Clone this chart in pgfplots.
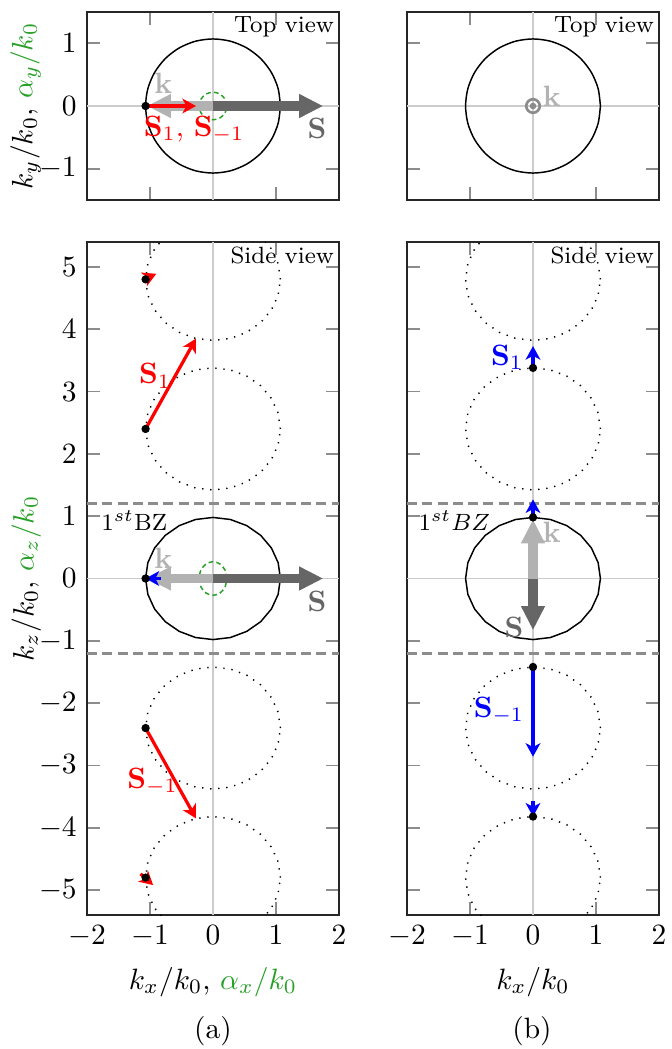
\documentclass[border=0pt]{standalone}
\usepackage{pgfplots}
\pgfplotsset{compat=1.18}
\usepackage{pgfplotstable}
\usetikzlibrary{arrows.meta}
\definecolor{mygreen}{RGB}{40,160,40}
\definecolor{kgray}{RGB}{178,178,178}
\definecolor{sgray}{RGB}{102,102,102}

\pgfplotstableread{
x y
1.070 0.000
1.034 0.254
0.927 0.490
0.757 0.693
0.535 0.849
0.277 0.947
0.000 0.980
-0.277 0.947
-0.535 0.849
-0.757 0.693
-0.927 0.490
-1.034 0.254
-1.070 0.000
-1.034 -0.254
-0.927 -0.490
-0.757 -0.693
-0.535 -0.849
-0.277 -0.947
0.000 -0.980
0.277 -0.947
0.535 -0.849
0.757 -0.693
0.927 -0.490
1.034 -0.254
1.070 0.000
}\sidecont

\pgfplotstableread{
x y
1.070 0.000
1.034 0.277
0.927 0.535
0.757 0.757
0.535 0.927
0.277 1.034
0.000 1.070
-0.277 1.034
-0.535 0.927
-0.757 0.757
-0.927 0.535
-1.034 0.277
-1.070 0.000
-1.034 -0.277
-0.927 -0.535
-0.757 -0.757
-0.535 -0.927
-0.277 -1.034
0.000 -1.070
0.277 -1.034
0.535 -0.927
0.757 -0.757
0.927 -0.535
1.034 -0.277
1.070 0.000
}\topcirc

\pgfplotstableread{
x y
0.220 0.000
0.191 0.110
0.110 0.191
0.000 0.220
-0.110 0.191
-0.191 0.110
-0.220 0.000
-0.191 -0.110
-0.110 -0.191
0.000 -0.220
0.110 -0.191
0.191 -0.110
0.220 0.000
}\greentop

\pgfplotstableread{
x y
0.220 0.000
0.191 0.135
0.110 0.234
0.000 0.270
-0.110 0.234
-0.191 0.135
-0.220 0.000
-0.191 -0.135
-0.110 -0.234
0.000 -0.270
0.110 -0.234
0.191 -0.135
0.220 0.000
}\greenside

\pgfplotsset{
  myax/.style={
    scale only axis, width=85.68pt,
    xmin=-2, xmax=2, xtick={-2,-1,0,1,2},
    axis line style={black!85, line width=0.6pt},
    major tick style={black!45, line width=0.6pt},
    major tick length=4.3pt,
    tick align=inside,
  },
  zeroline/.style={black!20, line width=0.6pt},
  bzline/.style={black!45, line width=0.85pt, dash pattern=on 3.4pt off 1.8pt},
  dotpat/.style={black, line width=0.5pt, dash pattern=on 0.45pt off 2.3pt},
  contour/.style={black, line width=0.5pt},
  greendash/.style={mygreen, line width=0.5pt, dash pattern=on 1.6pt off 1.1pt, smooth},
  karrow/.style={kgray, line width=3.2pt, -{Triangle[length=8.2pt,width=7.6pt]}},
  sarrow/.style={sgray, line width=3.2pt, -{Triangle[length=8.2pt,width=7.6pt]}},
  thinarrow/.style={line width=1.1pt, -{Stealth[length=4.6pt,width=5pt,inset=1.3pt]}},
  dots/.style={only marks, mark=*, mark size=1.2pt, black},
}

\begin{document}
\begin{tikzpicture}
\path[use as bounding box] (0,0) rectangle (228.14pt,-356.66pt);

% ---------------- top left ----------------
\begin{axis}[myax, at={(29.58pt,-4.08pt)}, anchor=north west, height=63.92pt,
  ymin=-1.5, ymax=1.5, ytick={-1,0,1}, xticklabels={},
  ylabel shift=-7.5pt,
  ylabel={$k_y/k_0$, \textcolor{mygreen}{$\alpha_y/k_0$}}]
\addplot[zeroline] coordinates {(-2,0) (2,0)};
\addplot[zeroline] coordinates {(0,-1.5) (0,1.5)};
\addplot[contour, smooth] table {\topcirc};
\addplot[greendash] table {\greentop};
\addplot[karrow] coordinates {(0,0) (-1.05,0)};
\addplot[sarrow] coordinates {(0,0) (1.75,0)};
\addplot[thinarrow, red] coordinates {(-1.07,0) (-0.27,0)};
\addplot[dots] coordinates {(-1.07,0)};
\node[font=\footnotesize, anchor=north east, inner sep=1.5pt] at (axis cs:2,1.5) {Top view};
\node[kgray] at (axis cs:-0.79,0.36) {$\mathbf{k}$};
\node[sgray] at (axis cs:1.65,-0.36) {$\mathbf{S}$};
\node[red] at (axis cs:-0.3,-0.38) {$\mathbf{S}_1$, $\mathbf{S}_{-1}$};
\end{axis}

% ---------------- top right ----------------
\begin{axis}[myax, at={(138.38pt,-4.08pt)}, anchor=north west, height=63.92pt,
  ymin=-1.5, ymax=1.5, ytick={-1,0,1}, xticklabels={}, yticklabels={}]
\addplot[zeroline] coordinates {(-2,0) (2,0)};
\addplot[zeroline] coordinates {(0,-1.5) (0,1.5)};
\addplot[contour, smooth] table {\topcirc};
\addplot[only marks, mark=o, mark size=2.3pt, mark options={line width=0.9pt, black!45}] coordinates {(0,0)};
\addplot[only marks, mark=*, mark size=0.9pt, mark options={black!45}] coordinates {(0,0)};
\node[font=\footnotesize, anchor=north east, inner sep=1.5pt] at (axis cs:2,1.5) {Top view};
\node[kgray] at (axis cs:0.3,0.16) {$\mathbf{k}$};
\end{axis}

% ---------------- bottom left ----------------
\begin{axis}[myax, at={(29.58pt,-82.28pt)}, anchor=north west, height=228.82pt,
  ymin=-5.4, ymax=5.4, ytick={-5,-4,-3,-2,-1,0,1,2,3,4,5},
  ylabel shift=-7.5pt,
  xlabel={$k_x/k_0$, \textcolor{mygreen}{$\alpha_x/k_0$}},
  ylabel={$k_z/k_0$, \textcolor{mygreen}{$\alpha_z/k_0$}}]
\addplot[zeroline] coordinates {(-2,0) (2,0)};
\addplot[zeroline] coordinates {(0,-5.4) (0,5.4)};
\addplot[bzline] coordinates {(-2,1.2) (2,1.2)};
\addplot[bzline] coordinates {(-2,-1.2) (2,-1.2)};
\addplot[dotpat] table[x=x, y expr=\thisrow{y}+2.4] {\sidecont};
\addplot[dotpat] table[x=x, y expr=\thisrow{y}+4.8] {\sidecont};
\addplot[dotpat] table[x=x, y expr=\thisrow{y}-2.4] {\sidecont};
\addplot[dotpat] table[x=x, y expr=\thisrow{y}-4.8] {\sidecont};
\addplot[contour] table {\sidecont};
\addplot[greendash] table {\greenside};
\addplot[karrow] coordinates {(0,0) (-1.05,0)};
\addplot[sarrow] coordinates {(0,0) (1.75,0)};
\addplot[thinarrow, blue] coordinates {(-0.83,0) (-1.07,0)};
\addplot[thinarrow, red] coordinates {(-1.07,2.4) (-0.27,3.85)};
\addplot[thinarrow, red] coordinates {(-1.07,-2.4) (-0.27,-3.85)};
\addplot[thinarrow, red] coordinates {(-1.12,4.79) (-0.9,4.89)};
\addplot[thinarrow, red] coordinates {(-1.15,-4.74) (-0.95,-4.92)};
\addplot[dots] coordinates {(-1.07,0) (-1.07,2.4) (-1.07,4.8) (-1.07,-2.4) (-1.07,-4.8)};
\node[font=\footnotesize, anchor=north east, inner sep=1.5pt] at (axis cs:2,5.4) {Side view};
\node[font=\footnotesize] at (axis cs:-1.25,0.93) {$1^{st}$BZ};
\node[kgray] at (axis cs:-0.79,0.32) {$\mathbf{k}$};
\node[sgray] at (axis cs:1.65,-0.36) {$\mathbf{S}$};
\node[red] at (axis cs:-0.92,3.25) {$\mathbf{S}_1$};
\node[red] at (axis cs:-0.96,-3.26) {$\mathbf{S}_{-1}$};
\end{axis}

% ---------------- bottom right ----------------
\begin{axis}[myax, at={(138.38pt,-82.28pt)}, anchor=north west, height=228.82pt,
  ymin=-5.4, ymax=5.4, ytick={-5,-4,-3,-2,-1,0,1,2,3,4,5}, yticklabels={},
  xlabel={$k_x/k_0$}]
\addplot[zeroline] coordinates {(-2,0) (2,0)};
\addplot[zeroline] coordinates {(0,-5.4) (0,5.4)};
\addplot[bzline] coordinates {(-2,1.2) (2,1.2)};
\addplot[bzline] coordinates {(-2,-1.2) (2,-1.2)};
\addplot[dotpat] table[x=x, y expr=\thisrow{y}+2.4] {\sidecont};
\addplot[dotpat] table[x=x, y expr=\thisrow{y}+4.8] {\sidecont};
\addplot[dotpat] table[x=x, y expr=\thisrow{y}-2.4] {\sidecont};
\addplot[dotpat] table[x=x, y expr=\thisrow{y}-4.8] {\sidecont};
\addplot[contour] table {\sidecont};
\addplot[karrow] coordinates {(0,0) (0,0.95)};
\addplot[sarrow] coordinates {(0,0) (0,-0.83)};
\addplot[thinarrow, blue] coordinates {(0,0.98) (0,1.27)};
\addplot[thinarrow, blue] coordinates {(0,3.38) (0,3.73)};
\addplot[thinarrow, blue] coordinates {(0,-1.42) (0,-2.86)};
\addplot[thinarrow, blue] coordinates {(0,-3.57) (0,-3.82)};
\addplot[dots] coordinates {(0,0.98) (0,3.38) (0,-1.42) (0,-3.82)};
\node[font=\footnotesize, anchor=north east, inner sep=1.5pt] at (axis cs:2,5.4) {Side view};
\node[font=\footnotesize] at (axis cs:-1.25,0.93) {$1^{st}BZ$};
\node[kgray] at (axis cs:0.3,0.74) {$\mathbf{k}$};
\node[sgray] at (axis cs:-0.3,-0.78) {$\mathbf{S}$};
\node[blue] at (axis cs:-0.41,3.55) {$\mathbf{S}_1$};
\node[blue] at (axis cs:-0.54,-2.12) {$\mathbf{S}_{-1}$};
\end{axis}

\node at (72.42pt,-350.5pt) {(a)};
\node at (180.88pt,-350.5pt) {(b)};
\end{tikzpicture}
\end{document}
